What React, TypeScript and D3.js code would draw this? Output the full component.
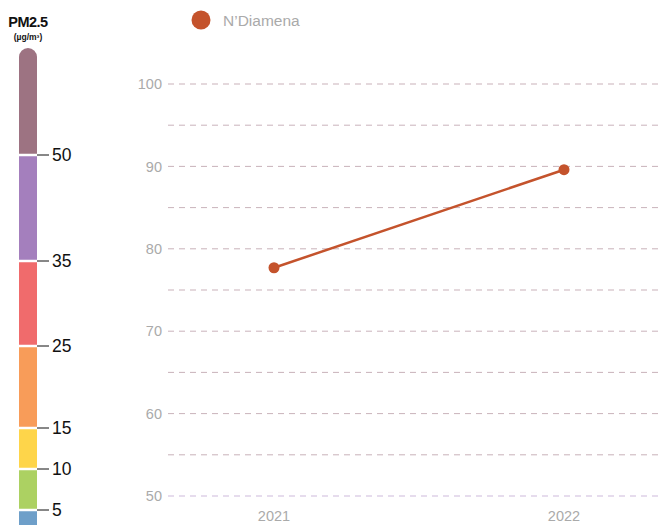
import React from "react";
import * as d3 from "d3";

const years = ["2021", "2022"];
const values = [77.7, 89.6];
const seriesName = "N\u2019Diamena";
const yTicks = [50, 60, 70, 80, 90, 100];
const yGrid = [50, 55, 60, 65, 70, 75, 80, 85, 90, 95, 100];
const pmBreaks = [0, 5, 10, 15, 25, 35, 50, 65];
const pmColors = ["#6e9fc9", "#acd162", "#fed54a", "#f89c59", "#f06b6c", "#a47fbd", "#9d7382"];
const pmTicks = [5, 10, 15, 25, 35, 50];

const W = 662;
const H = 525;

export default function App() {
  const x = d3.scalePoint<string>().domain(years).range([274, 564]);
  const y = d3.scaleLinear().domain([50, 100]).range([496, 84]);
  const pm = d3
    .scaleLinear()
    .domain([0, 5, 10, 15, 25, 35, 50, 65])
    .range([551, 510, 469, 428, 346, 261, 155, 48]);
  const line = d3
    .line<number>()
    .x((_, i) => x(years[i]) as number)
    .y((d) => y(d));
  const gridColor = (v: number) => {
    let idx = 0;
    for (let i = 0; i < pmBreaks.length - 1; i++) if (v > pmBreaks[i]) idx = i;
    return pmColors[idx];
  };
  const font = "Helvetica, 'Liberation Sans', Arial, sans-serif";
  return (
    <svg width={W} height={H} style={{ position: "absolute", left: 0, top: 0 }} fontFamily={font}>
      <defs>
        <clipPath id="barclip">
          <rect x={19} y={pm(65)} width={18} height={600} rx={9} ry={9} />
        </clipPath>
      </defs>
      {/* PM legend */}
      <text x={28} y={27} textAnchor="middle" fontSize={14.5} fontWeight="bold" fill="#111" letterSpacing={-0.5}>
        PM2.5
      </text>
      <text x={28} y={40} textAnchor="middle" fontSize={8.5} fontWeight="bold" fill="#111">
        (µg/m³)
      </text>
      <g clipPath="url(#barclip)">
        {pmColors.map((c, i) => (
          <rect
            key={i}
            x={19}
            y={pm(pmBreaks[i + 1])}
            width={18}
            height={pm(pmBreaks[i]) - pm(pmBreaks[i + 1])}
            fill={c}
          />
        ))}
        {pmTicks.map((t) => (
          <line key={t} x1={19} x2={37} y1={pm(t)} y2={pm(t)} stroke="#fff" strokeWidth={2.5} />
        ))}
      </g>
      {pmTicks.map((t) => (
        <g key={t}>
          <line x1={37} x2={49} y1={pm(t)} y2={pm(t)} stroke="#111" strokeWidth={1} />
          <text x={52} y={pm(t)} dy="0.36em" fontSize={17.5} fill="#111">
            {t}
          </text>
        </g>
      ))}
      {/* grid */}
      {yGrid.map((g) => (
        <line
          key={g}
          x1={168}
          x2={W}
          y1={y(g)}
          y2={y(g)}
          stroke={gridColor(g)}
          strokeOpacity={0.55}
          strokeWidth={1}
          strokeDasharray="6,5"
        />
      ))}
      {yTicks.map((t) => (
        <text key={t} x={162} y={y(t)} dy="0.36em" textAnchor="end" fontSize={14.5} fill="#aaa">
          {t}
        </text>
      ))}
      {years.map((yr) => (
        <text key={yr} x={x(yr)} y={521} textAnchor="middle" fontSize={14.5} fill="#aaa">
          {yr}
        </text>
      ))}
      {/* series */}
      <path d={line(values) || ""} fill="none" stroke="#c4532c" strokeWidth={2.5} />
      {values.map((v, i) => (
        <circle key={i} cx={x(years[i])} cy={y(v)} r={5.5} fill="#c4532c" />
      ))}
      {/* legend */}
      <circle cx={201} cy={20} r={9.5} fill="#c4532c" />
      <text x={223} y={20} dy="0.36em" fontSize={15.5} fill="#aaa">
        {seriesName}
      </text>
    </svg>
  );
}
